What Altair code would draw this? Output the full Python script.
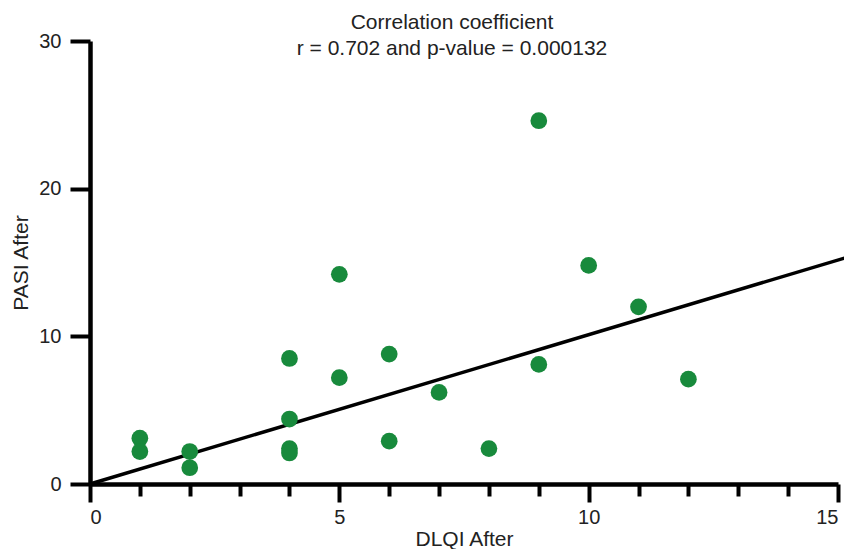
import altair as alt
import pandas as pd

dlqi = [1, 1, 2, 2, 4, 4, 4, 4, 5, 5, 6, 6, 7, 8, 9, 9, 10, 11, 12]
pasi = [3.1, 2.2, 2.2, 1.1, 8.5, 4.4, 2.4, 2.1, 14.2, 7.2, 8.8, 2.9, 6.2, 2.4, 24.6, 8.1, 14.8, 12.0, 7.1]

fit_x = [0, 15.28]
fit_y = [0, 15.45]

x_ticks = list(range(0, 16))
y_ticks = [0, 10, 20, 30]

pts = pd.DataFrame({"DLQI After": dlqi, "PASI After": pasi})
fit = pd.DataFrame({"DLQI After": fit_x, "PASI After": fit_y})

FONT = "Liberation Sans"

xscale = alt.Scale(domain=[0, 15], nice=False, zero=False)
yscale = alt.Scale(domain=[0, 30], nice=False, zero=False)

xaxis = alt.Axis(
    values=x_ticks,
    labelExpr="datum.value % 5 === 0 ? datum.label : ''",
    tickSize={"condition": {"test": "datum.value % 5 === 0", "value": 18}, "value": 12},
    tickWidth=4,
    tickColor="black",
    domainColor="black",
    domainWidth=4.5,
    grid=False,
    labelFontSize=20,
    labelFont=FONT,
    labelColor="#222",
    labelPadding=5,
    titleFontSize=21,
    titleFont=FONT,
    titleFontWeight="normal",
    titleColor="#222",
    titlePadding=1,
)
yaxis = alt.Axis(
    values=y_ticks,
    tickSize=20,
    tickWidth=4,
    tickColor="black",
    domainColor="black",
    domainWidth=4.5,
    grid=False,
    labelFontSize=20,
    labelFont=FONT,
    labelColor="#222",
    labelPadding=9,
    titleFontSize=21,
    titleFont=FONT,
    titleFontWeight="normal",
    titleColor="#222",
    titlePadding=7,
)

points = alt.Chart(pts).mark_circle(size=280, opacity=1, color="#188a3c").encode(
    x=alt.X("DLQI After:Q", scale=xscale, axis=xaxis),
    y=alt.Y("PASI After:Q", scale=yscale, axis=yaxis),
)

line = alt.Chart(fit).mark_line(color="black", strokeWidth=3.5, clip=False).encode(
    x=alt.X("DLQI After:Q", scale=xscale),
    y=alt.Y("PASI After:Q", scale=yscale),
)

chart = (
    alt.layer(line, points)
    .properties(
        width=748,
        height=443,
        autosize=alt.AutoSizeParams(type="none"),
        padding={"left": 82, "top": 33, "right": 6, "bottom": 65},
        title=alt.TitleParams(
            text=["Correlation coefficient", "r = 0.702 and p-value = 0.000132"],
            fontSize=21,
            font=FONT,
            fontWeight="normal",
            color="#222",
            anchor="middle",
            offset=-28,
            dx=-12,
            lineHeight=26,
        ),
    )
    .configure_view(stroke=None)
)

chart.save("out.html", embed_options={"renderer": "svg", "actions": False})
